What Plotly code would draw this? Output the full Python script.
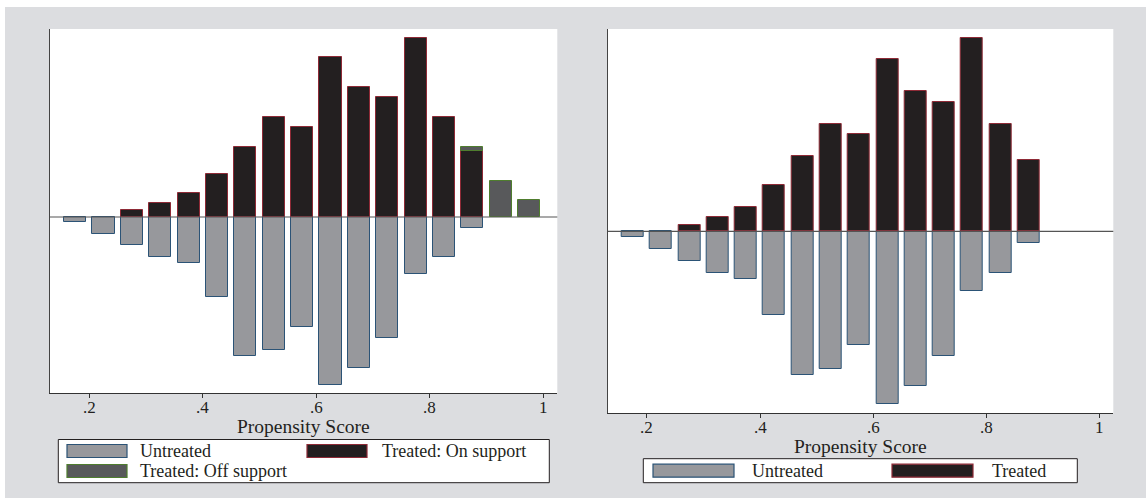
import plotly.graph_objects as go

# Histogram bins of the propensity score (bin centres, bar width)
bin_centers = [0.175, 0.225, 0.275, 0.325, 0.375, 0.425, 0.475, 0.525, 0.575,
               0.625, 0.675, 0.725, 0.775, 0.825, 0.875, 0.925, 0.975]
bar_width = 0.039

# Left panel: treated split by common support, untreated drawn below zero
left_untreated = [0.15, 0.51, 0.85, 1.21, 1.39, 2.41, 4.16, 3.98, 3.28,
                  5.03, 4.51, 3.63, 1.72, 1.21, 0.34, 0.0, 0.0]
left_treated_on = [0.0, 0.0, 0.20, 0.41, 0.71, 1.30, 2.10, 2.98, 2.70,
                   4.78, 3.88, 3.58, 5.37, 2.98, 1.98, 0.0, 0.0]
left_treated_off = [0.0, 0.0, 0.0, 0.0, 0.0, 0.0, 0.0, 0.0, 0.0,
                    0.0, 0.0, 0.0, 0.0, 0.0, 0.12, 1.09, 0.50]

# Right panel: matched sample, treated vs untreated
right_untreated = [0.17, 0.54, 0.89, 1.24, 1.44, 2.50, 4.30, 4.12, 3.40,
                   5.19, 4.65, 3.75, 1.79, 1.24, 0.35]
right_treated = [0.0, 0.0, 0.20, 0.42, 0.74, 1.40, 2.25, 3.22, 2.91,
                 5.16, 4.20, 3.88, 5.81, 3.22, 2.14]

tick_vals = [0.2, 0.4, 0.6, 0.8, 1.0]
tick_text = [".2", ".4", ".6", ".8", "1"]
x_range = [0.1307, 1.0247]
left_y_range = [-5.28, 5.63]
right_y_range = [-5.46, 6.07]

W, H = 1146, 498
FONT = "Liberation Serif"
TEXT = "#231f20"
BG = "#dcdde0"

C_UNTR, L_UNTR = "#97989c", "#2b5376"
C_ON, L_ON = "#231f20", "#8e2a36"
C_OFF, L_OFF = "#58595b", "#4f7d2e"


def px(x):
    return x / W


def py(y):
    return 1 - y / H


def pos(values):
    # empty bins are left out so they draw no outline
    return [v if v > 0 else None for v in values]


def neg(values):
    return [-v if v > 0 else None for v in values]


fig = go.Figure()

fig.add_trace(go.Bar(x=bin_centers, y=neg(left_untreated), width=bar_width,
                     marker=dict(color=C_UNTR, line=dict(color=L_UNTR, width=1)),
                     xaxis="x", yaxis="y", showlegend=False))
fig.add_trace(go.Bar(x=bin_centers, y=pos(left_treated_on), width=bar_width,
                     marker=dict(color=C_ON, line=dict(color=L_ON, width=1)),
                     xaxis="x", yaxis="y", showlegend=False))
fig.add_trace(go.Bar(x=bin_centers, y=pos(left_treated_off), width=bar_width,
                     marker=dict(color=C_OFF, line=dict(color=L_OFF, width=1)),
                     xaxis="x", yaxis="y", showlegend=False))

rc = bin_centers[:len(right_treated)]
fig.add_trace(go.Bar(x=rc, y=neg(right_untreated), width=bar_width,
                     marker=dict(color=C_UNTR, line=dict(color=L_UNTR, width=1)),
                     xaxis="x2", yaxis="y2", showlegend=False))
fig.add_trace(go.Bar(x=rc, y=pos(right_treated), width=bar_width,
                     marker=dict(color=C_ON, line=dict(color=L_ON, width=1)),
                     xaxis="x2", yaxis="y2", showlegend=False))

# Plot areas in pixels: (left, top, right, bottom)
left_box = (50, 29, 557.3, 393.3)
right_box = (607.7, 29, 1113.3, 413.3)

xaxis_style = dict(range=x_range, tickvals=tick_vals, showticklabels=False,
                   showgrid=False, zeroline=False, showline=True,
                   linecolor="#333333", linewidth=1, ticks="outside",
                   ticklen=4, tickcolor="#333333", tickwidth=1,
                   fixedrange=True)
yaxis_style = dict(showgrid=False, zeroline=False, showline=True,
                   linecolor="#444444", linewidth=1, showticklabels=False,
                   ticks="", fixedrange=True)

fig.update_layout(
    width=W, height=H, autosize=False,
    margin=dict(l=0, r=0, t=0, b=0),
    paper_bgcolor=BG, plot_bgcolor="white",
    barmode="relative", bargap=0,
    xaxis=dict(domain=[px(left_box[0]), px(left_box[2])], anchor="y", **xaxis_style),
    yaxis=dict(domain=[py(left_box[3]), py(left_box[1])], anchor="x",
               range=left_y_range, **yaxis_style),
    xaxis2=dict(domain=[px(right_box[0]), px(right_box[2])], anchor="y2", **xaxis_style),
    yaxis2=dict(domain=[py(right_box[3]), py(right_box[1])], anchor="x2",
                range=right_y_range, **yaxis_style),
)

shapes = []
annotations = []

# thin white frame along the top and left edges
shapes.append(dict(type="rect", xref="paper", yref="paper", x0=0, x1=1,
                   y0=py(7), y1=1, fillcolor="white", line=dict(width=0),
                   layer="below"))
shapes.append(dict(type="rect", xref="paper", yref="paper", x0=0, x1=px(5),
                   y0=0, y1=1, fillcolor="white", line=dict(width=0),
                   layer="below"))

# zero reference lines
for xr, yr in (("x", "y"), ("x2", "y2")):
    shapes.append(dict(type="line", xref=f"{xr} domain", yref=yr, x0=0, x1=1,
                       y0=0, y1=0, line=dict(color="#555555", width=1.2),
                       layer="above"))

# tick labels (placed on the x scale, just below the ticks) and axis titles
for xr, box in (("x", left_box), ("x2", right_box)):
    for v, t in zip(tick_vals, tick_text):
        annotations.append(dict(text=t, xref=xr, yref="paper", x=v,
                                y=py(box[3] + 4), xanchor="center",
                                yanchor="top", showarrow=False, borderpad=0,
                                font=dict(family=FONT, size=17, color=TEXT)))
    annotations.append(dict(text="Propensity Score", xref="paper", yref="paper",
                            x=px((box[0] + box[2]) / 2), y=py(box[3] + 22),
                            xanchor="center", yanchor="top", showarrow=False,
                            borderpad=0,
                            font=dict(family=FONT, size=19.5, color=TEXT)))


def legend_box(x0, y0, x1, y1):
    shapes.append(dict(type="rect", xref="paper", yref="paper",
                       x0=px(x0), x1=px(x1), y0=py(y1), y1=py(y0),
                       fillcolor="white", line=dict(color="#231f20", width=1)))


def legend_item(sx0, sx1, cy, fill, edge, label, tx):
    shapes.append(dict(type="rect", xref="paper", yref="paper",
                       x0=px(sx0), x1=px(sx1), y0=py(cy + 6.5), y1=py(cy - 6.5),
                       fillcolor=fill, line=dict(color=edge, width=1.2)))
    annotations.append(dict(text=label, xref="paper", yref="paper",
                            x=px(tx), y=py(cy), xanchor="left", yanchor="middle",
                            showarrow=False,
                            font=dict(family=FONT, size=18, color=TEXT)))


# left legend (two rows)
legend_box(58.3, 439.5, 549.3, 482.7)
legend_item(67, 127, 451, C_UNTR, L_UNTR, "Untreated", 138)
legend_item(307, 367, 451, C_ON, L_ON, "Treated: On support", 380)
legend_item(67, 127, 471, C_OFF, L_OFF, "Treated: Off support", 138)

# right legend (one row)
legend_box(643.3, 458.7, 1077.3, 482.7)
legend_item(653, 734, 470.7, C_UNTR, L_UNTR, "Untreated", 750)
legend_item(892, 973, 470.7, C_ON, L_ON, "Treated", 990)

fig.update_layout(shapes=shapes, annotations=annotations)

fig.write_html("out.html")
